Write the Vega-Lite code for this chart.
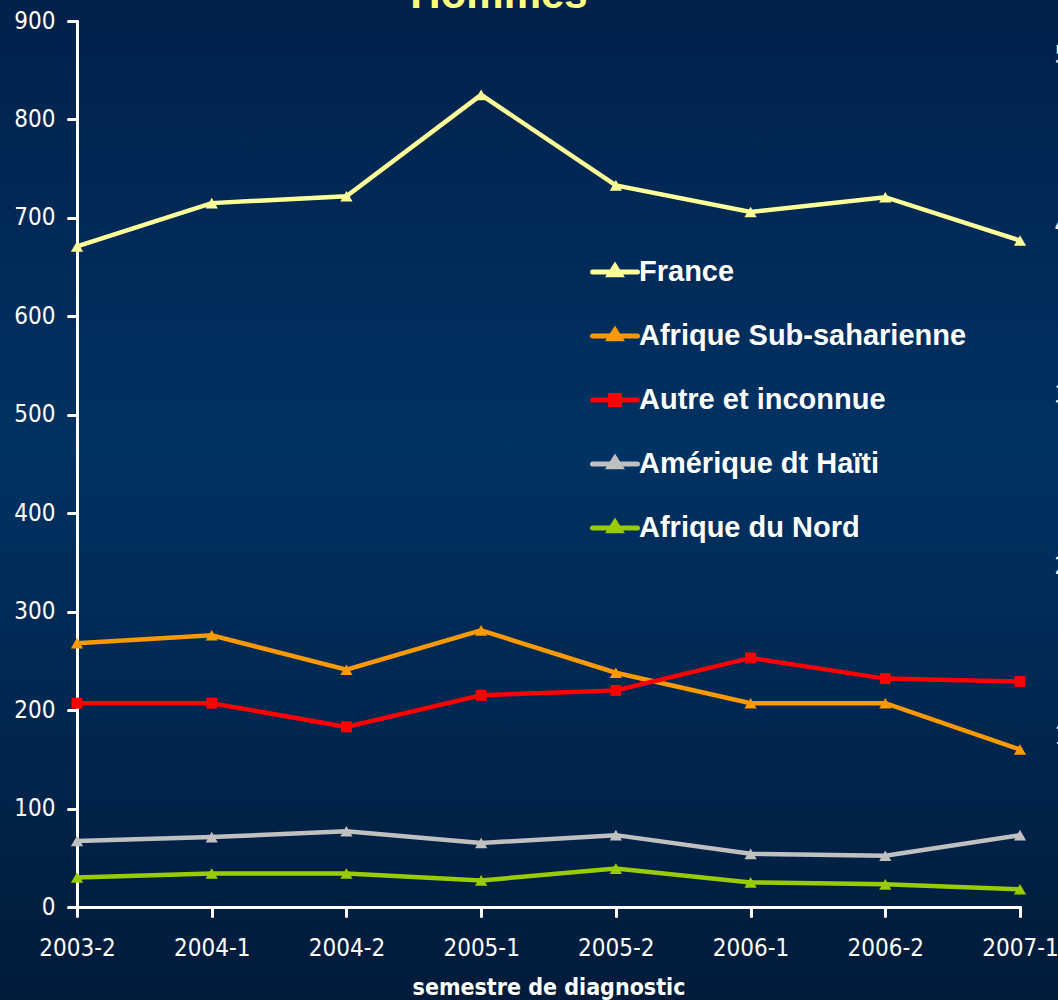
{
  "$schema": "https://vega.github.io/schema/vega-lite/v6.json",
  "width": 1058,
  "height": 1000,
  "autosize": {"type": "none"},
  "padding": 0,
  "background": "#002a55",
  "view": {
    "stroke": null,
    "fill": {"gradient": "linear", "x1": 0, "y1": 0, "x2": 0, "y2": 1,
      "stops": [
        {"offset": 0, "color": "#00214a"},
        {"offset": 0.45, "color": "#003263"},
        {"offset": 1, "color": "#001b3a"}
      ]}
  },
  "title": {
    "text": "Hommes",
    "anchor": "middle",
    "frame": "group",
    "offset": -50,
    "dx": -30,
    "baseline": "alphabetic",
    "font": "Liberation Sans",
    "fontWeight": "bold",
    "fontSize": 42,
    "color": "#ffff80"
  },
  "data": {
    "values": [
      {"semestre": "2003-2", "origine": "France", "n": 671},
      {"semestre": "2004-1", "origine": "France", "n": 715},
      {"semestre": "2004-2", "origine": "France", "n": 722},
      {"semestre": "2005-1", "origine": "France", "n": 825},
      {"semestre": "2005-2", "origine": "France", "n": 733},
      {"semestre": "2006-1", "origine": "France", "n": 706},
      {"semestre": "2006-2", "origine": "France", "n": 721},
      {"semestre": "2007-1", "origine": "France", "n": 677},
      {"semestre": "2003-2", "origine": "Afrique Sub-saharienne", "n": 268},
      {"semestre": "2004-1", "origine": "Afrique Sub-saharienne", "n": 276},
      {"semestre": "2004-2", "origine": "Afrique Sub-saharienne", "n": 241},
      {"semestre": "2005-1", "origine": "Afrique Sub-saharienne", "n": 281},
      {"semestre": "2005-2", "origine": "Afrique Sub-saharienne", "n": 238},
      {"semestre": "2006-1", "origine": "Afrique Sub-saharienne", "n": 207},
      {"semestre": "2006-2", "origine": "Afrique Sub-saharienne", "n": 207},
      {"semestre": "2007-1", "origine": "Afrique Sub-saharienne", "n": 160},
      {"semestre": "2003-2", "origine": "Autre et inconnue", "n": 207},
      {"semestre": "2004-1", "origine": "Autre et inconnue", "n": 207},
      {"semestre": "2004-2", "origine": "Autre et inconnue", "n": 183},
      {"semestre": "2005-1", "origine": "Autre et inconnue", "n": 215},
      {"semestre": "2005-2", "origine": "Autre et inconnue", "n": 220},
      {"semestre": "2006-1", "origine": "Autre et inconnue", "n": 253},
      {"semestre": "2006-2", "origine": "Autre et inconnue", "n": 232},
      {"semestre": "2007-1", "origine": "Autre et inconnue", "n": 229},
      {"semestre": "2003-2", "origine": "Amérique dt Haïti", "n": 67},
      {"semestre": "2004-1", "origine": "Amérique dt Haïti", "n": 71},
      {"semestre": "2004-2", "origine": "Amérique dt Haïti", "n": 77},
      {"semestre": "2005-1", "origine": "Amérique dt Haïti", "n": 65},
      {"semestre": "2005-2", "origine": "Amérique dt Haïti", "n": 73},
      {"semestre": "2006-1", "origine": "Amérique dt Haïti", "n": 54},
      {"semestre": "2006-2", "origine": "Amérique dt Haïti", "n": 52},
      {"semestre": "2007-1", "origine": "Amérique dt Haïti", "n": 73},
      {"semestre": "2003-2", "origine": "Afrique du Nord", "n": 30},
      {"semestre": "2004-1", "origine": "Afrique du Nord", "n": 34},
      {"semestre": "2004-2", "origine": "Afrique du Nord", "n": 34},
      {"semestre": "2005-1", "origine": "Afrique du Nord", "n": 27},
      {"semestre": "2005-2", "origine": "Afrique du Nord", "n": 39},
      {"semestre": "2006-1", "origine": "Afrique du Nord", "n": 25},
      {"semestre": "2006-2", "origine": "Afrique du Nord", "n": 23},
      {"semestre": "2007-1", "origine": "Afrique du Nord", "n": 18}
    ]
  },
  "layer": [
    {
      "encoding": {
        "x": {
          "field": "semestre", "type": "ordinal", "sort": null,
          "scale": {"type": "point", "range": [77, 1020], "padding": 0},
          "axis": {
            "title": "semestre de diagnostic",
            "offset": -93,
            "labelAngle": 0,
            "labelPadding": 20,
            "labelFont": "Liberation Sans Narrow, DejaVu Sans Condensed, Liberation Sans, sans-serif",
            "labelFontSize": 24,
            "labelColor": "#ffffff",
            "titleFont": "Liberation Sans Narrow, DejaVu Sans Condensed, Liberation Sans, sans-serif",
            "titleFontWeight": "bold",
            "titleFontSize": 23,
            "titleColor": "#ffffff",
            "titlePadding": 16
          }
        },
        "y": {
          "field": "n", "type": "quantitative",
          "scale": {"domain": [0, 900], "range": [907, 21], "nice": false, "zero": true},
          "axis": {
            "title": null,
            "offset": -77,
            "values": [0, 100, 200, 300, 400, 500, 600, 700, 800, 900],
            "labelPadding": 13,
            "labelFont": "Liberation Sans Narrow, DejaVu Sans Condensed, Liberation Sans, sans-serif",
            "labelFontSize": 24,
            "labelColor": "#ffffff"
          }
        },
        "color": {
          "field": "origine", "type": "nominal",
          "scale": {
            "domain": ["France", "Afrique Sub-saharienne", "Autre et inconnue", "Amérique dt Haïti", "Afrique du Nord"],
            "range": ["#ffff99", "#ff9900", "#ff0000", "#c0c0c0", "#99cc00"]
          },
          "legend": {
            "title": null,
            "orient": "none",
            "legendX": 590,
            "legendY": 247,
            "padding": 0,
            "symbolSize": 2025,
            "symbolStrokeWidth": 5,
            "rowPadding": 24,
            "labelOffset": -1,
            "labelFont": "Liberation Sans",
            "labelFontWeight": "bold",
            "labelFontSize": 29,
            "labelColor": "#ffffff",
            "labelLimit": 500,
            "encode": {
              "symbols": {
                "update": {
                  "shape": {"signal": "datum.value === 'Autre et inconnue' ? 'M-1,0H1M-0.2,-0.2H0.2V0.2H-0.2Z' : 'M-1,0H1M-0.24,0.12L0,-0.26L0.24,0.12Z'"},
                  "fill": {"signal": "scale('color', datum.value)"},
                  "stroke": {"signal": "scale('color', datum.value)"},
                  "strokeWidth": {"value": 5},
                  "strokeCap": {"value": "round"},
                  "opacity": {"value": 1},
                  "fillOpacity": {"value": 1}
                }
              }
            }
          }
        }
      },
      "layer": [
        {"mark": {"type": "line", "strokeWidth": 4.5, "strokeJoin": "miter"}},
        {
          "transform": [{"filter": "datum.origine !== 'Autre et inconnue'"}],
          "mark": {"type": "point", "filled": true, "opacity": 1, "shape": "triangle-up", "size": 150}
        },
        {
          "transform": [{"filter": "datum.origine === 'Autre et inconnue'"}],
          "mark": {"type": "point", "filled": true, "opacity": 1, "shape": "square", "size": 121}
        }
      ]
    },
    {
      "mark": {"type": "rule", "opacity": 0},
      "encoding": {
        "y": {
          "datum": 0, "type": "quantitative",
          "scale": {"domain": [0, 5.2], "range": [907, 21], "nice": false},
          "axis": {
            "orient": "right",
            "title": null,
            "offset": -38,
            "values": [1, 2, 3, 4, 5],
            "domain": false,
            "ticks": false,
            "tickSize": 0,
            "labelPadding": 34,
            "labelAlign": "left",
            "labelFont": "Liberation Sans Narrow, DejaVu Sans Condensed, Liberation Sans, sans-serif",
            "labelFontSize": 24,
            "labelColor": "#ffffff"
          }
        }
      }
    }
  ],
  "resolve": {"scale": {"y": "independent"}},
  "config": {
    "axis": {
      "grid": false,
      "domainColor": "#ffffff",
      "domainWidth": 3,
      "domainCap": "round",
      "tickColor": "#ffffff",
      "tickWidth": 3,
      "tickSize": 9,
      "tickCap": "round"
    }
  }
}
